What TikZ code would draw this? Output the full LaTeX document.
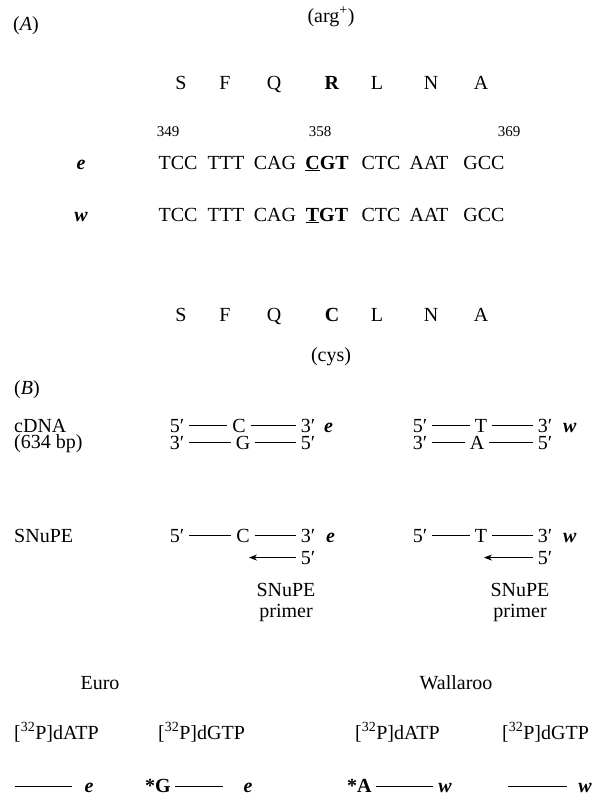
\documentclass[tikz,border=0pt]{standalone}
\usepackage{fontspec}
\setmainfont{Liberation Serif}
\usetikzlibrary{arrows.meta}
\begin{document}
\begin{tikzpicture}[x=1pt,y=-1pt,
  every node/.style={inner sep=0pt, anchor=base},
  big/.style={font=\fontsize{20}{24}\selectfont},
  small/.style={font=\fontsize{15}{18}\selectfont},
  strand/.style={line width=0.8pt, shorten <=5pt, shorten >=5pt},
  plainline/.style={line width=0.8pt},
  primerarrow/.style={line width=0.8pt, -{Stealth[length=8pt,width=6pt,inset=2.5pt]}, shorten <=5pt}
]
\useasboundingbox (0,0) rectangle (595,795);
% ---------- (A)
\node[big, anchor=base west] (lA) at (13,30) {(\textit{A})};
\node[big] (arg) at (331,22) {(arg\textsuperscript{+})};
\node[big] (aS1) at (181,89) {S};
\node[big] (aF1) at (225,89) {F};
\node[big] (aQ1) at (274,89) {Q};
\node[big] (aR1) at (332,89) {\textbf{R}};
\node[big] (aL1) at (377,89) {L};
\node[big] (aN1) at (431,89) {N};
\node[big] (aA1) at (481,89) {A};
\node[small] (n349) at (168,136) {349};
\node[small] (n358) at (320,136) {358};
\node[small] (n369) at (509,136) {369};
% e row
\node[big] (le) at (81,169) {\textbf{\textit{e}}};
\node[big] (e1) at (178,169) {TCC};
\node[big] (e2) at (226,169) {TTT};
\node[big] (e3) at (275,169) {CAG};
\node[big] (e4) at (327,169) {\textbf{\underline{C}GT}};
\node[big] (e5) at (381,169) {CTC};
\node[big] (e6) at (429,169) {AAT};
\node[big] (e7) at (484,169) {GCC};
% w row
\node[big] (lw) at (81,221) {\textbf{\textit{w}}};
\node[big] (w1) at (178,221) {TCC};
\node[big] (w2) at (226,221) {TTT};
\node[big] (w3) at (275,221) {CAG};
\node[big] (w4) at (327,221) {\textbf{\underline{T}GT}};
\node[big] (w5) at (381,221) {CTC};
\node[big] (w6) at (429,221) {AAT};
\node[big] (w7) at (484,221) {GCC};
% second amino-acid row
\node[big] (aS2) at (181,321) {S};
\node[big] (aF2) at (225,321) {F};
\node[big] (aQ2) at (274,321) {Q};
\node[big] (aC2) at (332,321) {\textbf{C}};
\node[big] (aL2) at (377,321) {L};
\node[big] (aN2) at (431,321) {N};
\node[big] (aA2) at (481,321) {A};
\node[big] (cys) at (331,361) {(cys)};
% ---------- (B)
\node[big, anchor=base west] (lB) at (14,394) {(\textit{B})};
\node[big, anchor=base west] (cdna) at (14,432) {cDNA};
\node[big, anchor=base west] (bp) at (14,448) {(634 bp)};
% cDNA left (e)
\node[big] (c5a) at (177,432) {5′};
\node[big] (cC) at (239,432) {C};
\node[big] (c3a) at (308,432) {3′};
\node[big, anchor=base west] (ce) at (324,432) {\textbf{\textit{e}}};
\node[big] (c3b) at (177,449) {3′};
\node[big] (cG) at (243,449) {G};
\node[big] (c5b) at (308,449) {5′};
\draw[strand] (c5a.east) -- (cC.west |- c5a.east);
\draw[strand] (cC.east) -- (c3a.west |- cC.east);
\draw[strand] (c3b.east) -- (cG.west |- c3b.east);
\draw[strand] (cG.east) -- (c5b.west |- cG.east);
% cDNA right (w)
\node[big] (d5a) at (420,432) {5′};
\node[big] (dT) at (481,432) {T};
\node[big] (d3a) at (545,432) {3′};
\node[big, anchor=base west] (dw) at (563,432) {\textbf{\textit{w}}};
\node[big] (d3b) at (420,449) {3′};
\node[big] (dA) at (477,449) {A};
\node[big] (d5b) at (545,449) {5′};
\draw[strand] (d5a.east) -- (dT.west |- d5a.east);
\draw[strand] (dT.east) -- (d3a.west |- dT.east);
\draw[strand] (d3b.east) -- (dA.west |- d3b.east);
\draw[strand] (dA.east) -- (d5b.west |- dA.east);
% SNuPE
\node[big, anchor=base west] (snupe) at (14,542) {SNuPE};
\node[big] (s5a) at (177,542) {5′};
\node[big] (sC) at (243,542) {C};
\node[big] (s3a) at (308,542) {3′};
\node[big, anchor=base west] (se) at (326,542) {\textbf{\textit{e}}};
\draw[strand] (s5a.east) -- (sC.west |- s5a.east);
\draw[strand] (sC.east) -- (s3a.west |- sC.east);
\node[big] (s5c) at (308,564) {5′};
\coordinate (stip) at (249,557);
\draw[primerarrow] (s5c.west) -- (stip |- s5c.west);
\node[big] (sp1) at (286,596) {SNuPE};
\node[big] (sp2) at (286,617) {primer};
\node[big] (t5a) at (420,542) {5′};
\node[big] (tT) at (481,542) {T};
\node[big] (t3a) at (545,542) {3′};
\node[big, anchor=base west] (tw) at (563,542) {\textbf{\textit{w}}};
\draw[strand] (t5a.east) -- (tT.west |- t5a.east);
\draw[strand] (tT.east) -- (t3a.west |- tT.east);
\node[big] (t5c) at (545,564) {5′};
\coordinate (ttip) at (484,557);
\draw[primerarrow] (t5c.west) -- (ttip |- t5c.west);
\node[big] (tp1) at (520,596) {SNuPE};
\node[big] (tp2) at (520,617) {primer};
% Euro / Wallaroo
\node[big] (euro) at (100,689) {Euro};
\node[big] (wall) at (456,689) {Wallaroo};
\node[big, anchor=base west] (r1) at (14,739) {[\textsuperscript{32}P]dATP};
\node[big, anchor=base west] (r2) at (158,739) {[\textsuperscript{32}P]dGTP};
\node[big, anchor=base west] (r3) at (355,739) {[\textsuperscript{32}P]dATP};
\node[big, anchor=base west] (r4) at (502,739) {[\textsuperscript{32}P]dGTP};
% bottom row
\coordinate (b1s) at (15,786);
\node[big] (b1e) at (89,792) {\textbf{\textit{e}}};
\draw[plainline, shorten >=12pt] (b1s) -- (b1s -| b1e.west);
\node[big, anchor=base west] (b2g) at (145,792) {\textbf{*G}};
\node[big] (b2e) at (248,792) {\textbf{\textit{e}}};
\draw[plainline, shorten <=4pt, shorten >=20pt] (b2g.east |- b1s) -- (b2e.west |- b1s);
\node[big, anchor=base west] (b3a) at (347,792) {\textbf{*A}};
\node[big] (b3w) at (445,792) {\textbf{\textit{w}}};
\draw[plainline, shorten <=4pt, shorten >=5pt] (b3a.east |- b1s) -- (b3w.west |- b1s);
\coordinate (b4s) at (508,786);
\node[big] (b4w) at (585,792) {\textbf{\textit{w}}};
\draw[plainline, shorten >=11pt] (b4s) -- (b4s -| b4w.west);
\end{tikzpicture}
\end{document}
